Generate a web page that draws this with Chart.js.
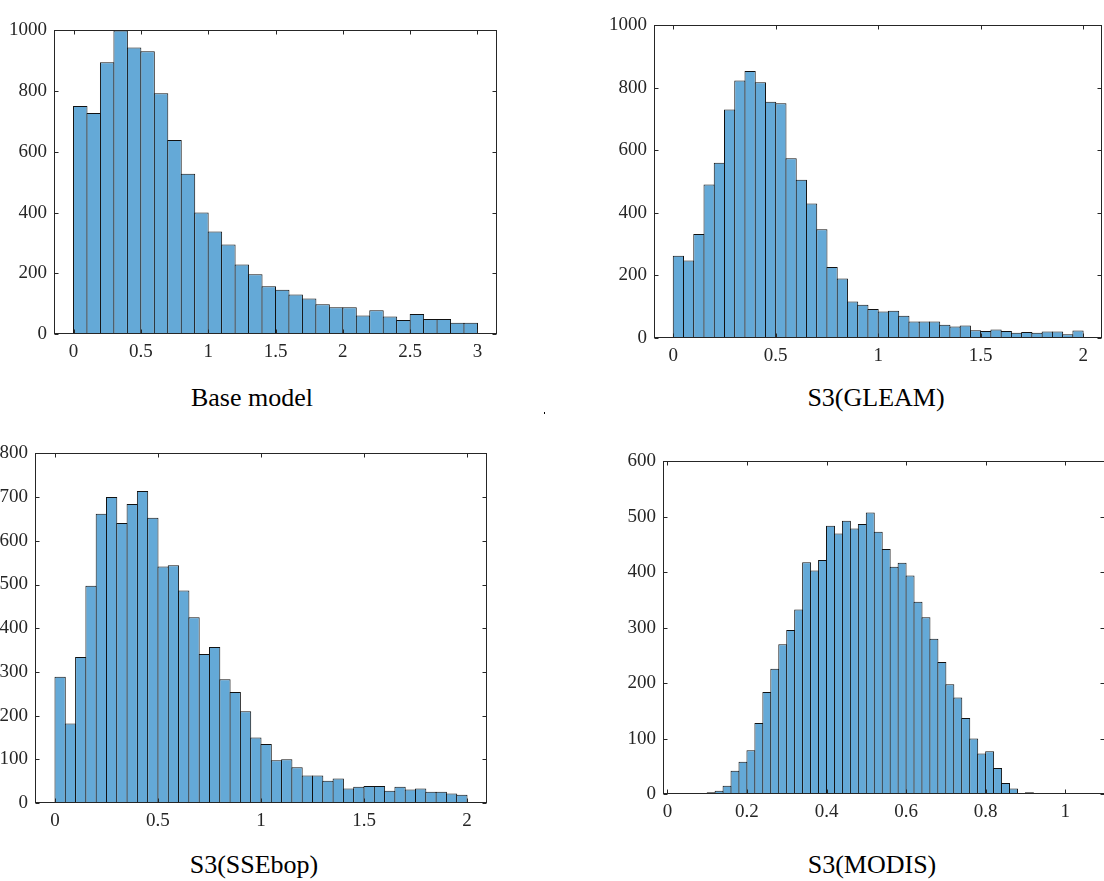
<!DOCTYPE html>
<html>
<head>
<meta charset="utf-8">
<script src="https://cdn.jsdelivr.net/npm/chart.js@4/dist/chart.umd.min.js"></script>
<style>
  html, body { margin: 0; padding: 0; background: #fff; overflow: hidden; }
  body { width: 1104px; height: 881px; position: relative; }
  canvas { position: absolute; }
  .ttl { position: absolute; width: 300px; text-align: center; font: 26px "Liberation Serif", serif; line-height: 26px; color: #000; }
  .dot { position: absolute; left: 544px; top: 412px; width: 1px; height: 2px; background: #000; }
</style>
</head>
<body>
<canvas id="c1" width="513" height="362" style="left:-6px;top:12px"></canvas>
<canvas id="c2" width="518" height="371" style="left:594px;top:7px"></canvas>
<canvas id="c3" width="522" height="408" style="left:-25px;top:435px"></canvas>
<canvas id="c4" width="512" height="391" style="left:603px;top:443px"></canvas>
<div class="ttl" style="left:102px;top:385px">Base model</div>
<div class="ttl" style="left:726px;top:385px">S3(GLEAM)</div>
<div class="ttl" style="left:104px;top:852px">S3(SSEbop)</div>
<div class="ttl" style="left:722px;top:852px">S3(MODIS)</div>
<div class="dot"></div>
<script>
// histogram counts
const baseCounts = [751, 728, 895, 1000, 944, 931, 793, 639, 528, 400, 338, 295, 229, 197, 157, 146, 130, 117, 98, 88,
  88, 61, 78, 58, 46, 66, 49, 49, 37, 37];
const gleamCounts = [263, 248, 333, 491, 561, 731, 824, 854, 818, 756, 751, 575, 506, 430, 348, 227, 190, 117, 106, 93,
  85, 87, 71, 53, 53, 53, 42, 37, 40, 25, 22, 27, 22, 17, 19, 17, 21, 21, 12, 24];
const ssebopCounts = [289, 182, 334, 497, 662, 700, 641, 684, 714, 653, 541, 544, 486, 425, 341, 357, 283, 254, 210, 150,
  135, 98, 100, 82, 63, 63, 51, 56, 33, 37, 39, 39, 28, 37, 31, 33, 26, 26, 22, 19];
const modisCounts = [1, 1, 3, 6, 15, 42, 58, 79, 128, 184, 226, 270, 296, 333, 418, 403, 422, 484, 470, 493,
  479, 487, 508, 473, 442, 410, 417, 394, 347, 319, 280, 238, 198, 174, 137, 100, 73, 77, 47, 20,
  10, 2, 3, 0, 0, 1];

// bin layout (first edge, width)
const baseBins = [0, 0.1];
const gleamBins = [0, 0.05];
const ssebopBins = [0, 0.05];
const modisBins = [0.06, 0.02];

// tick values
const baseXTicks = [0, 0.5, 1, 1.5, 2, 2.5, 3];
const baseYTicks = [0, 200, 400, 600, 800, 1000];
const gleamXTicks = [0, 0.5, 1, 1.5, 2];
const gleamYTicks = [0, 200, 400, 600, 800, 1000];
const ssebopXTicks = [0, 0.5, 1, 1.5, 2];
const ssebopYTicks = [0, 100, 200, 300, 400, 500, 600, 700, 800];
const modisXTicks = [0, 0.2, 0.4, 0.6, 0.8, 1];
const modisYTicks = [0, 100, 200, 300, 400, 500, 600];

const AX = '#262626';
const tickFont = { family: 'Liberation Serif', size: 19 };

// MATLAB-like box with inward ticks
const boxPlugin = {
  id: 'box',
  afterDraw(chart) {
    const { ctx, chartArea: a, scales } = chart;
    ctx.save();
    ctx.strokeStyle = AX;
    ctx.lineWidth = 1;
    const L = Math.round(a.left) + 0.5, R = Math.round(a.right) - 0.5;
    const T = Math.round(a.top) + 0.5, B = Math.round(a.bottom) - 0.5;
    ctx.strokeRect(L, T, R - L, B - T);
    ctx.beginPath();
    scales.x.ticks.forEach(t => {
      const px = Math.round(scales.x.getPixelForValue(t.value)) + 0.5;
      ctx.moveTo(px, B); ctx.lineTo(px, B - 4);
      ctx.moveTo(px, T); ctx.lineTo(px, T + 4);
    });
    scales.y.ticks.forEach(t => {
      const py = Math.round(scales.y.getPixelForValue(t.value)) + 0.5;
      ctx.moveTo(L, py); ctx.lineTo(L + 4, py);
      ctx.moveTo(R, py); ctx.lineTo(R - 4, py);
    });
    ctx.stroke();
    ctx.restore();
  }
};

function makeHist(id, counts, bins, xMin, xMax, yMax, xTicks, yTicks, binPx) {
  const pts = counts.map((c, i) => ({ x: bins[0] + (i + 0.5) * bins[1], y: c }));
  new Chart(document.getElementById(id), {
    type: 'bar',
    data: {
      datasets: [{
        data: pts,
        backgroundColor: 'rgb(100,169,215)',
        borderColor: '#111',
        borderWidth: 1,
        barPercentage: 1 + 1 / binPx,
        categoryPercentage: 1
      }]
    },
    options: {
      responsive: false,
      animation: false,
      devicePixelRatio: 1,
      layout: { padding: { top: 10, right: 10, left: 0, bottom: 0 } },
      plugins: { legend: { display: false }, tooltip: { enabled: false } },
      scales: {
        x: {
          type: 'linear', offset: false, min: xMin, max: xMax,
          grid: { display: false, drawTicks: false }, border: { display: false },
          afterBuildTicks: s => { s.ticks = xTicks.map(v => ({ value: v })); },
          afterFit: s => { s.height = 40; },
          ticks: { font: tickFont, color: AX, padding: 7, maxRotation: 0, callback: v => String(v) }
        },
        y: {
          min: 0, max: yMax,
          grid: { display: false, drawTicks: false }, border: { display: false },
          afterBuildTicks: s => { s.ticks = yTicks.map(v => ({ value: v })); },
          afterFit: s => { s.width = 60; },
          ticks: { font: tickFont, color: AX, padding: 7, callback: v => String(v) }
        }
      }
    },
    plugins: [boxPlugin]
  });
}

makeHist('c1', baseCounts, baseBins, -0.145, 3.145, 1000, baseXTicks, baseYTicks, 13.46);
makeHist('c2', gleamCounts, gleamBins, -0.094, 2.092, 1000, gleamXTicks, gleamYTicks, 10.25);
makeHist('c3', ssebopCounts, ssebopBins, -0.097, 2.097, 800, ssebopXTicks, ssebopYTicks, 10.3);
makeHist('c4', modisCounts, modisBins, -0.011, 1.1, 600, modisXTicks, modisYTicks, 7.95);
</script>
</body>
</html>
